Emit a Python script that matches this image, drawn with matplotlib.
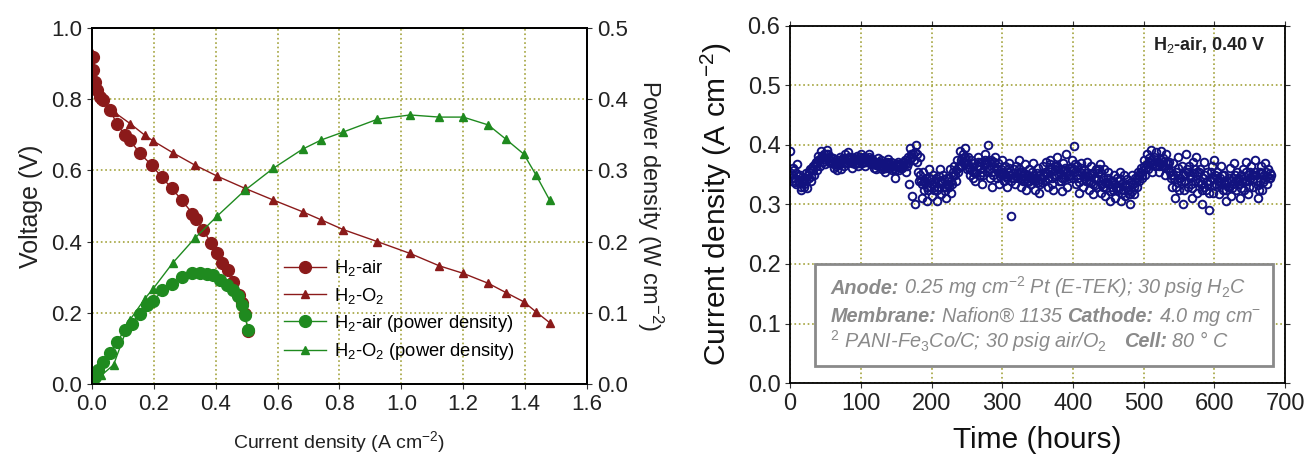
import numpy as np
import matplotlib
matplotlib.use('Agg')
import matplotlib.pyplot as plt
from matplotlib.patches import Rectangle

plt.rcParams['font.family'] = ['Liberation Sans', 'DejaVu Sans']
plt.rcParams['mathtext.fontset'] = 'custom'
plt.rcParams['mathtext.rm'] = 'Liberation Sans'
plt.rcParams['mathtext.it'] = 'Liberation Sans:italic'
plt.rcParams['mathtext.bf'] = 'Liberation Sans:bold'

# ---- polarization data (left panel)
cur_air_v = [0.002, 0.004, 0.010, 0.015, 0.026, 0.037, 0.058, 0.080, 0.107, 0.123,
             0.155, 0.193, 0.225, 0.258, 0.290, 0.325, 0.336, 0.360, 0.384, 0.405,
             0.422, 0.441, 0.457, 0.476, 0.484, 0.494, 0.505]
volt_air = [0.919, 0.882, 0.849, 0.826, 0.807, 0.798, 0.770, 0.732, 0.699, 0.685,
            0.648, 0.615, 0.582, 0.550, 0.517, 0.479, 0.465, 0.433, 0.397, 0.367,
            0.339, 0.320, 0.287, 0.250, 0.229, 0.196, 0.150]

cur_air_p = [0.0, 0.010, 0.020, 0.037, 0.058, 0.080, 0.107, 0.128, 0.155, 0.177,
             0.198, 0.228, 0.258, 0.290, 0.322, 0.349, 0.371, 0.392, 0.414, 0.435,
             0.457, 0.473, 0.484, 0.494, 0.505]
pow_air = [0.001, 0.010, 0.020, 0.031, 0.043, 0.059, 0.076, 0.085, 0.099, 0.111,
           0.116, 0.132, 0.141, 0.150, 0.156, 0.156, 0.155, 0.153, 0.146, 0.139,
           0.132, 0.124, 0.111, 0.097, 0.076]

cur_o2 = [0.0, 0.01, 0.03, 0.07, 0.123, 0.171, 0.198, 0.261, 0.333, 0.405, 0.494,
          0.586, 0.681, 0.742, 0.812, 0.923, 1.028, 1.123, 1.200, 1.281, 1.338,
          1.396, 1.435, 1.480]
volt_o2 = [0.93, 0.86, 0.80, 0.765, 0.732, 0.699, 0.683, 0.650, 0.615, 0.584, 0.550,
           0.517, 0.484, 0.461, 0.434, 0.400, 0.367, 0.332, 0.311, 0.283, 0.257,
           0.231, 0.203, 0.172]
pow_o2 = [0.0, 0.0043, 0.012, 0.027, 0.090, 0.120, 0.134, 0.170, 0.205, 0.236, 0.272,
          0.303, 0.330, 0.343, 0.354, 0.372, 0.378, 0.375, 0.375, 0.364, 0.344,
          0.323, 0.294, 0.258]

# ---- life test (right panel), readings at even hours ...
hours_a = np.arange(0, 682, 2)
life_a = [
    .390, .345, .362, .338, .352, .368, .336, .350, .325, .342,
    .330, .352, .328, .345, .360, .340, .365, .350, .372, .358,
    .382, .365, .390, .372, .385, .368, .392, .378, .380, .370,
    .378, .362, .372, .358, .366, .380, .360, .375, .365, .385,
    .370, .388, .372, .380, .362, .378, .368, .382, .365, .375,
    .385, .370, .380, .365, .378, .372, .385, .368, .376, .362,
    .372, .360, .378, .365, .375, .360, .370, .355, .368, .376,
    .362, .372, .358, .370, .345, .365, .372, .358, .368, .362,
    .370, .375, .355, .380, .335, .395, .315, .385, .300, .400,
    .372, .340, .380, .310, .355, .325, .345, .305, .360, .330,
    .315, .350, .325, .345, .305, .340, .360, .318, .350, .330,
    .310, .345, .330, .360, .320, .350, .365, .340, .375, .355,
    .390, .365, .385, .372, .395, .360, .380, .350, .375, .345,
    .370, .340, .365, .380, .350, .372, .335, .368, .385, .355,
    .400, .345, .375, .330, .365, .380, .345, .370, .335, .360,
    .375, .340, .365, .330, .355, .370, .280, .345, .360, .335,
    .365, .345, .375, .330, .355, .340, .368, .325, .350, .360,
    .335, .355, .370, .325, .345, .362, .320, .350, .338, .365,
    .340, .372, .330, .360, .375, .345, .325, .365, .350, .380,
    .340, .360, .322, .370, .345, .385, .330, .362, .350, .375,
    .345, .398, .335, .365, .320, .355, .370, .330, .358, .340,
    .372, .325, .350, .365, .318, .345, .360, .330, .352, .368,
    .320, .345, .360, .315, .338, .355, .305, .340, .325, .350,
    .310, .345, .330, .355, .305, .335, .350, .315, .342, .325,
    .300, .338, .350, .318, .345, .330, .355, .340, .362, .345,
    .375, .350, .385, .360, .378, .392, .355, .380, .365, .388,
    .372, .355, .390, .365, .378, .350, .385, .360, .372, .345,
    .330, .370, .310, .355, .380, .325, .345, .365, .300, .350,
    .385, .330, .365, .345, .310, .372, .340, .380, .320, .355,
    .360, .300, .345, .372, .325, .355, .290, .340, .365, .320,
    .375, .335, .355, .318, .345, .365, .325, .350, .305, .340,
    .330, .362, .315, .345, .370, .325, .355, .340, .310, .350,
    .360, .325, .372, .340, .318, .355, .365, .330, .350, .375,
    .340, .310, .355, .365, .325, .350, .370, .335, .360, .345,
    .350]

# ... and at odd hours
hours_b = np.arange(1, 680, 2)
life_b = [
    .352, .340, .358, .345, .335, .348, .340, .330, .338, .335,
    .345, .340, .350, .355, .348, .362, .358, .368, .365, .375,
    .375, .378, .382, .380, .376, .384, .385, .372, .375, .378,
    .370, .368, .365, .372, .374, .368, .370, .378, .376, .372,
    .378, .380, .376, .370, .372, .374, .376, .372, .370, .380,
    .378, .376, .372, .372, .375, .380, .376, .372, .368, .370,
    .366, .370, .372, .370, .366, .365, .362, .362, .372, .370,
    .368, .365, .364, .362, .358, .368, .365, .364, .362, .366,
    .372, .368, .365, .370, .378, .385, .380, .375, .388, .385,
    .355, .350, .340, .335, .338, .340, .330, .325, .345, .342,
    .335, .330, .338, .325, .330, .348, .340, .336, .342, .322,
    .330, .335, .345, .340, .335, .355, .350, .358, .362, .365,
    .375, .378, .372, .380, .375, .368, .362, .360, .358, .355,
    .355, .352, .372, .365, .360, .355, .350, .375, .370, .370,
    .372, .360, .355, .350, .372, .362, .358, .352, .348, .350,
    .355, .352, .348, .345, .362, .350, .340, .352, .345, .348,
    .352, .360, .355, .345, .348, .352, .345, .340, .338, .345,
    .345, .342, .348, .340, .352, .338, .335, .342, .350, .348,
    .355, .352, .345, .368, .360, .335, .348, .358, .365, .362,
    .352, .340, .345, .358, .362, .355, .348, .345, .362, .358,
    .360, .368, .350, .345, .338, .362, .352, .345, .348, .352,
    .348, .340, .338, .352, .335, .332, .345, .342, .360, .352,
    .335, .330, .338, .328, .345, .335, .322, .330, .340, .335,
    .328, .325, .340, .342, .320, .325, .332, .330, .335, .318,
    .318, .322, .335, .330, .338, .345, .348, .352, .350, .358,
    .365, .362, .368, .372, .370, .375, .368, .370, .375, .372,
    .365, .370, .375, .372, .365, .362, .370, .368, .355, .350,
    .350, .345, .330, .338, .362, .345, .340, .350, .325, .340,
    .360, .355, .350, .335, .328, .352, .360, .355, .338, .340,
    .335, .325, .330, .350, .340, .335, .320, .355, .345, .332,
    .350, .345, .340, .332, .338, .350, .340, .335, .325, .330,
    .345, .340, .328, .335, .350, .340, .345, .335, .328, .338,
    .342, .340, .355, .350, .330, .345, .350, .342, .355, .350,
    .332, .325, .340, .352, .338, .342, .355, .348, .345, .352]

red = '#8b1a1a'
green = '#1f8a1f'
navy = '#12127f'
gridc = '#a3a33c'

fig = plt.figure(figsize=(13.06, 4.61), dpi=100)

# ================= left panel
ax = fig.add_axes([0.0704, 0.167, 0.379, 0.772])
ax2 = ax.twinx()

l1, = ax.plot(cur_air_v, volt_air, '-o', color=red, ms=8.5, lw=1, label='H$_2$-air')
l2, = ax.plot(cur_o2, volt_o2, '-^', color=red, ms=6, lw=1, label='H$_2$-O$_2$')
l3, = ax2.plot(cur_air_p, pow_air, '-o', color=green, ms=8.5, lw=1,
               label='H$_2$-air (power density)')
l4, = ax2.plot(cur_o2, pow_o2, '-^', color=green, ms=6, lw=1,
               label='H$_2$-O$_2$ (power density)')

ax.set_xlim(0, 1.6)
ax.set_ylim(0, 1.0)
ax2.set_ylim(0, 0.5)
ax.set_xticks(np.arange(0, 1.61, 0.2))
ax.set_yticks(np.arange(0, 1.01, 0.2))
ax2.set_yticks(np.arange(0, 0.51, 0.1))
ax.xaxis.set_major_formatter('{x:.1f}')
ax.yaxis.set_major_formatter('{x:.1f}')
ax2.yaxis.set_major_formatter('{x:.1f}')
ax.grid(True, ls=':', color=gridc, lw=1.2)
ax.tick_params(labelsize=16, colors='#333333', labelcolor='#222222')
ax2.tick_params(labelsize=16, colors='#333333', labelcolor='#222222')
ax.set_xlabel('Current density (A cm$^{-2}$)', fontsize=14, color='#222222',
              labelpad=10)
ax.set_ylabel('Voltage (V)', fontsize=18, color='#222222', labelpad=6)
ax2.set_ylabel('Power density (W cm$^{-2}$)', fontsize=17, color='#222222',
               rotation=270, labelpad=27)
for a in (ax, ax2):
    for s in a.spines.values():
        s.set_linewidth(1.3)

ax2.legend(handles=[l1, l2, l3, l4], loc='lower left', bbox_to_anchor=(0.355, 0.015),
           frameon=False, fontsize=13.2, handlelength=2.3, handletextpad=0.4,
           labelspacing=0.4)

# ================= right panel
axr = fig.add_axes([0.605, 0.169, 0.379, 0.775])
axr.plot(hours_a, life_a, 'o', mfc='none', mec=navy, ms=5.5, mew=1.4)
axr.plot(hours_b, life_b, 'o', mfc='none', mec=navy, ms=5.5, mew=1.4)
axr.set_xlim(0, 700)
axr.set_ylim(0, 0.6)
axr.set_xticks(np.arange(0, 701, 100))
axr.set_yticks(np.arange(0, 0.61, 0.1))
axr.yaxis.set_major_formatter('{x:.1f}')
axr.grid(True, ls=':', color=gridc, lw=1.2)
axr.tick_params(labelsize=17, colors='#333333', labelcolor='#222222',
                top=True, right=True)
axr.set_xlabel('Time (hours)', fontsize=21.5, color='#111111', labelpad=8)
axr.set_ylabel('Current density (A cm$^{-2}$)', fontsize=21.5, color='#111111',
               labelpad=10)
for s in axr.spines.values():
    s.set_linewidth(1.3)

axr.text(0.96, 0.947, 'H$_2$-air, 0.40 V', transform=axr.transAxes, ha='right',
         va='center', fontsize=13, fontweight='bold', color='#222222')

box = Rectangle((35, 0.029), 648, 0.171, facecolor='white', edgecolor='#8a8a8a',
                lw=2, zorder=3)
axr.add_patch(box)

lines = [
    [('Anode:', 'bold'), (' ', None), ('0.25 mg cm$^{-2}$ Pt (E-TEK); 30 psig H$_2$C', 'normal')],
    [('Membrane:', 'bold'), (' ', None), ('Nafion\u00ae 1135', 'normal'), (' ', None),
     ('Cathode:', 'bold'), (' ', None), ('4.0 mg cm$^{-}$', 'normal')],
    [('$^2$ PANI-Fe$_3$Co/C; 30 psig air/O$_2$', 'normal'), ('   ', None),
     ('Cell:', 'bold'), (' ', None), ('80 \u00b0 C', 'normal')],
]
line_y = [0.150, 0.103, 0.060]
box_fs = 14.3

fig.canvas.draw()
renderer = fig.canvas.get_renderer()
tmp = axr.text(0, 0, 'a a', fontsize=box_fs, style='italic')
w2 = tmp.get_window_extent(renderer).width
tmp.set_text('aa')
space_w = w2 - tmp.get_window_extent(renderer).width
tmp.remove()

x0_disp = axr.transData.transform((57, 0))[0]
for pieces, yv in zip(lines, line_y):
    xd = x0_disp
    yd = axr.transData.transform((0, yv))[1]
    for txt, wt in pieces:
        if wt is None:
            xd += space_w * len(txt)
            continue
        t = axr.text(xd, yd, txt, transform=None, fontsize=box_fs, style='italic',
                     fontweight=wt, color='#8a8a8a', va='baseline', ha='left',
                     zorder=4)
        xd += t.get_window_extent(renderer).width

fig.savefig('out.png', dpi=100)
